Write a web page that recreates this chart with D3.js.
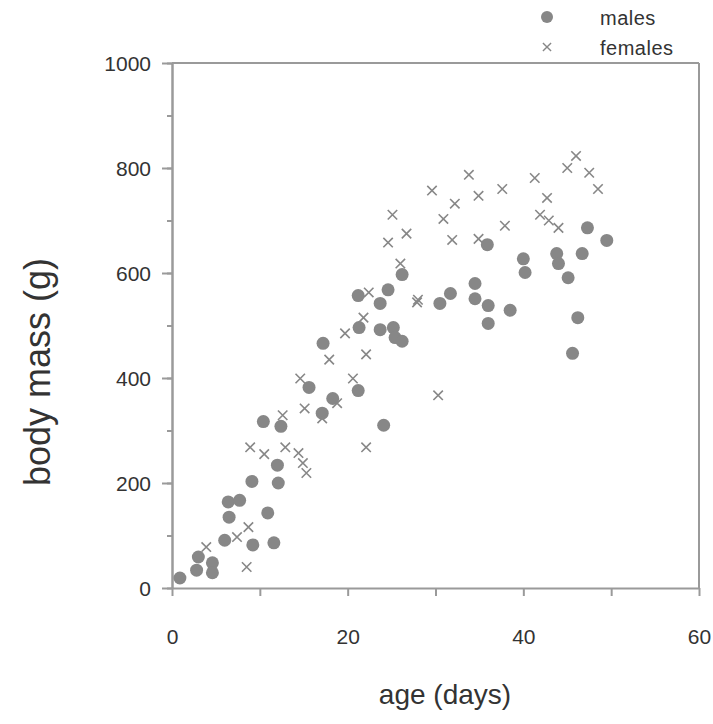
<!DOCTYPE html>
<html>
<head>
<meta charset="utf-8">
<script src="https://cdn.jsdelivr.net/npm/d3@7"></script>
<style>
  html, body { margin: 0; padding: 0; background: #fff; }
  svg { display: block; font-family: "Liberation Sans", Arial, Helvetica, sans-serif; }
</style>
</head>
<body>
<svg id="chart" width="713" height="724"></svg>
<script>
// ---- data ----
const maleAge  = [0.9, 2.8, 3.0, 4.6, 4.6, 6.0, 6.5, 6.4, 7.7, 9.2, 9.1, 10.9, 11.6, 12.1, 12.0, 10.4, 12.4,
                  15.6, 17.1, 18.3, 21.2, 24.1, 17.2, 21.3, 23.7, 25.2, 25.4, 26.2, 23.7, 21.2, 24.6, 26.2,
                  30.5, 31.7, 34.5, 34.5, 36.0, 36.0, 38.5, 35.9, 40.0, 40.2, 43.8, 44.0, 45.1, 46.7, 47.3,
                  49.5, 46.2, 45.6];
const maleMass = [19, 34, 59, 48, 29, 91, 135, 164, 167, 82, 203, 143, 86, 200, 234, 317, 308,
                  382, 333, 361, 376, 310, 466, 496, 492, 496, 477, 470, 542, 557, 568, 597,
                  542, 561, 580, 551, 538, 504, 529, 654, 627, 601, 637, 618, 591, 637, 686,
                  662, 515, 447];
const femaleAge  = [3.9, 8.5, 7.4, 8.7, 8.9, 10.5, 12.9, 14.4, 14.9, 15.3, 12.6, 15.1, 14.6, 17.1, 18.8,
                    17.9, 19.7, 20.6, 22.1, 21.8, 22.1, 27.9, 30.3, 29.6, 32.2, 30.9, 31.9, 25.1, 26.7,
                    24.6, 26.0, 28.0, 22.4, 33.8, 34.9, 37.6, 37.9, 34.9, 41.3, 42.7, 41.9, 42.9, 44.0,
                    45.0, 46.0, 47.5, 48.5];
const femaleMass = [78, 40, 97, 116, 268, 255, 268, 257, 238, 219, 329, 342, 399, 323, 352,
                    435, 485, 399, 445, 515, 268, 544, 367, 757, 732, 703, 663, 711, 675,
                    658, 618, 549, 563, 787, 747, 760, 690, 665, 781, 743, 711, 700, 686,
                    800, 823, 791, 760];
const xTickValues = [0, 20, 40, 60];
const xMinorTicks = [0, 10, 20, 30, 40, 50, 60];
const yTickValues = [0, 200, 400, 600, 800, 1000];
const yMinorTicks = [0, 100, 200, 300, 400, 500, 600, 700, 800, 900, 1000];
const seriesNames = ["males", "females"];

// ---- layout ----
const svg = d3.select("#chart");
const pLeft = 172, pTop = 63, pRight = 699, pBottom = 588;
const x = d3.scaleLinear().domain([0, 60]).range([pLeft, pRight]);
const y = d3.scaleLinear().domain([0, 1000]).range([pBottom, pTop]);
const lineColor = "#9a9a9a";
const pointColor = "#878787";
const textColor = "#333";

// frame (top and right)
svg.append("line").attr("x1", pLeft).attr("x2", pRight).attr("y1", pTop).attr("y2", pTop)
  .attr("stroke", lineColor).attr("stroke-width", 2);
svg.append("line").attr("x1", pRight).attr("x2", pRight).attr("y1", pTop).attr("y2", pBottom)
  .attr("stroke", lineColor).attr("stroke-width", 2);

// x axis: all ticks, labels only on majors
const xAxis = svg.append("g").attr("transform", `translate(0,${pBottom})`)
  .call(d3.axisBottom(x).tickValues(xMinorTicks).tickSize(8).tickSizeOuter(0)
    .tickFormat(d => xTickValues.includes(d) ? d3.format("d")(d) : ""));
// y axis minor ticks
const yMinor = svg.append("g").attr("transform", `translate(${pLeft},0)`)
  .call(d3.axisLeft(y).tickValues(yMinorTicks).tickSize(5).tickSizeOuter(0).tickFormat(""));
// y axis major ticks with labels
const yAxis = svg.append("g").attr("transform", `translate(${pLeft},0)`)
  .call(d3.axisLeft(y).tickValues(yTickValues).tickSize(10).tickSizeOuter(0).tickFormat(d3.format("d")));

[xAxis, yMinor, yAxis].forEach(g => {
  g.select(".domain").attr("stroke", lineColor).attr("stroke-width", 2);
  g.selectAll(".tick line").attr("stroke", lineColor).attr("stroke-width", 2);
  g.selectAll("text").attr("fill", textColor).style("font-size", "21px");
});
xAxis.selectAll("text").attr("dy", "0").attr("y", 56);
yAxis.selectAll("text").attr("x", -21).attr("dy", "0.35em");

// axis titles
svg.append("text").attr("x", 445).attr("y", 704)
  .attr("text-anchor", "middle").attr("fill", textColor).style("font-size", "28px")
  .text("age (days)");
svg.append("text").attr("transform", `translate(50,372) rotate(-90)`)
  .attr("text-anchor", "middle").attr("fill", textColor).style("font-size", "36px")
  .text("body mass (g)");

// points
const males = maleAge.map((a, i) => ({ a, m: maleMass[i] }));
const females = femaleAge.map((a, i) => ({ a, m: femaleMass[i] }));

svg.append("g").selectAll("circle").data(males).join("circle")
  .attr("cx", d => x(d.a)).attr("cy", d => y(d.m)).attr("r", 6.5)
  .attr("fill", pointColor);

const cross = d3.symbol().type(d3.symbolX).size(60);
svg.append("g").selectAll("path").data(females).join("path")
  .attr("transform", d => `translate(${x(d.a)},${y(d.m)})`)
  .attr("d", cross).attr("fill", "none").attr("stroke", pointColor).attr("stroke-width", 1.6);

// legend
const legend = svg.append("g");
legend.append("circle").attr("cx", 547).attr("cy", 17).attr("r", 6).attr("fill", pointColor);
legend.append("path").attr("transform", "translate(547,47)")
  .attr("d", d3.symbol().type(d3.symbolX).size(45)).attr("fill", "none")
  .attr("stroke", pointColor).attr("stroke-width", 1.4);
legend.selectAll("text").data(seriesNames).join("text")
  .attr("x", 600).attr("y", (d, i) => 18 + i * 30).attr("dy", "0.35em")
  .attr("fill", textColor).style("font-size", "20px").style("letter-spacing", "0.5px").text(d => d);
</script>
</body>
</html>
